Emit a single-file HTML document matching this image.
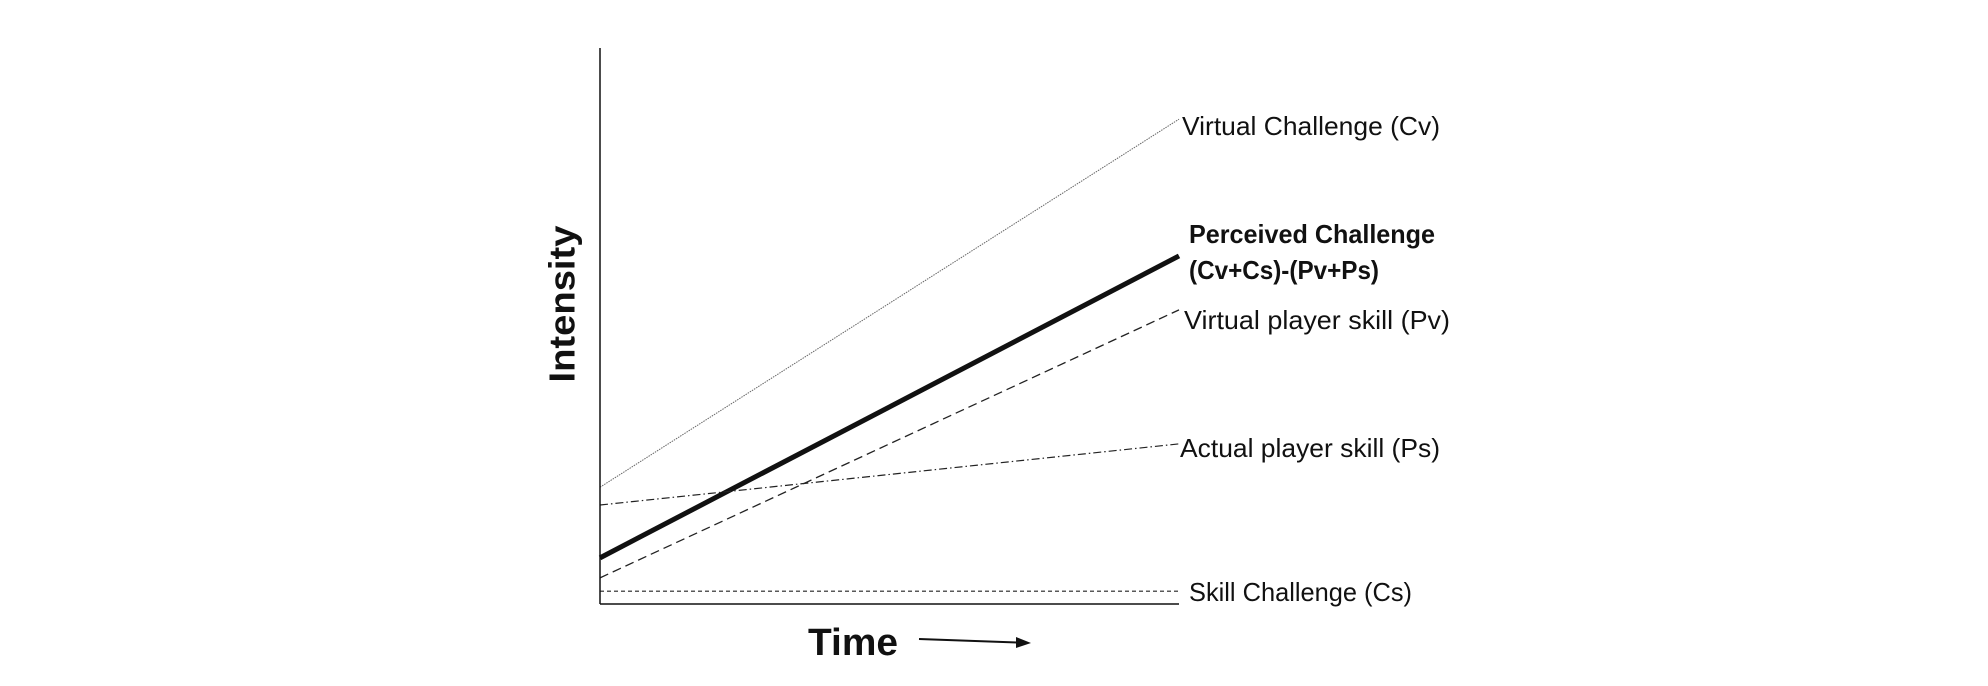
<!DOCTYPE html>
<html><head><meta charset="utf-8"><style>
html,body{margin:0;padding:0;background:#fff;}
svg{display:block;font-family:"Liberation Sans",sans-serif;}
</style></head><body>
<svg id="chart" width="1988" height="686" viewBox="0 0 1988 686">
<g id="series"></g>
<line x1="600" y1="48" x2="600" y2="604" stroke="#111" stroke-width="1.5"/>
<line x1="600" y1="604" x2="1179" y2="604" stroke="#111" stroke-width="1.5"/>
<text x="562" y="304" transform="rotate(-90 562 304)" text-anchor="middle" dominant-baseline="central" font-weight="bold" font-size="36" textLength="157" lengthAdjust="spacingAndGlyphs" fill="#111">Intensity</text>
<text x="853" y="655" text-anchor="middle" font-weight="bold" font-size="38" textLength="90" lengthAdjust="spacingAndGlyphs" fill="#111">Time</text>
<g>
<line x1="919" y1="639" x2="1018" y2="642.5" stroke="#111" stroke-width="2"/>
<polygon points="1031,643 1016,637 1016,648" fill="#111"/>
</g>
<g id="labels" font-size="26" fill="#111"></g>
</svg>
<script>
const seriesNames = ["Virtual Challenge (Cv)", "Perceived Challenge", "Virtual player skill (Pv)", "Actual player skill (Ps)", "Skill Challenge (Cs)"];
const startValues = [21.0, 8.3, 4.7, 17.8, 2.3];
const endValues = [87.2, 62.6, 52.9, 28.8, 2.3];
const styles = [
 {w:1, dash:"1.5,1", c:"#666"},
 {w:5, dash:"", c:"#111"},
 {w:1.3, dash:"9,5", c:"#222"},
 {w:1.2, dash:"8,3,1.5,3", c:"#222"},
 {w:1.2, dash:"4,3", c:"#222"}
];
const X0=600, X1=1179, Y0=604, Y1=48;
function xs(t){return X0+(X1-X0)*t;}
function ys(v){return Y0-(Y0-Y1)*v/100;}
const NS="http://www.w3.org/2000/svg";
const g=document.getElementById('series');
const names=["line-virtual-challenge","line-perceived-challenge","line-virtual-player-skill","line-actual-player-skill","line-skill-challenge"];
for(let i=0;i<seriesNames.length;i++){
 const l=document.createElementNS(NS,'line');
 l.setAttribute('x1',xs(0));l.setAttribute('y1',ys(startValues[i]));
 l.setAttribute('x2',xs(1));l.setAttribute('y2',ys(endValues[i]));
 l.setAttribute('stroke',styles[i].c);l.setAttribute('stroke-width',styles[i].w);
 if(styles[i].dash)l.setAttribute('stroke-dasharray',styles[i].dash);
 
 
 g.appendChild(l);
}
const lg=document.getElementById('labels');
const labelDefs=[
 ["Virtual Challenge (Cv)",1182,126,258,false,"label-virtual-challenge"],
 ["Perceived Challenge",1189,234,246,true,"label-perceived-challenge"],
 ["(Cv+Cs)-(Pv+Ps)",1189,270,190,true,"label-perceived-formula"],
 ["Virtual player skill (Pv)",1184,320,266,false,"label-virtual-player-skill"],
 ["Actual player skill (Ps)",1180,448,260,false,"label-actual-player-skill"],
 ["Skill Challenge (Cs)",1189,592,223,false,"label-skill-challenge"]
];
for(const d of labelDefs){
 const t=document.createElementNS(NS,'text');
 t.setAttribute('x',d[1]);t.setAttribute('y',d[2]);
 t.setAttribute('dominant-baseline','central');
 t.setAttribute('textLength',d[3]);t.setAttribute('lengthAdjust','spacingAndGlyphs');
 if(d[4])t.setAttribute('font-weight','bold');
 t.textContent=d[0];
 
 
 lg.appendChild(t);
}
</script>
</body></html>
